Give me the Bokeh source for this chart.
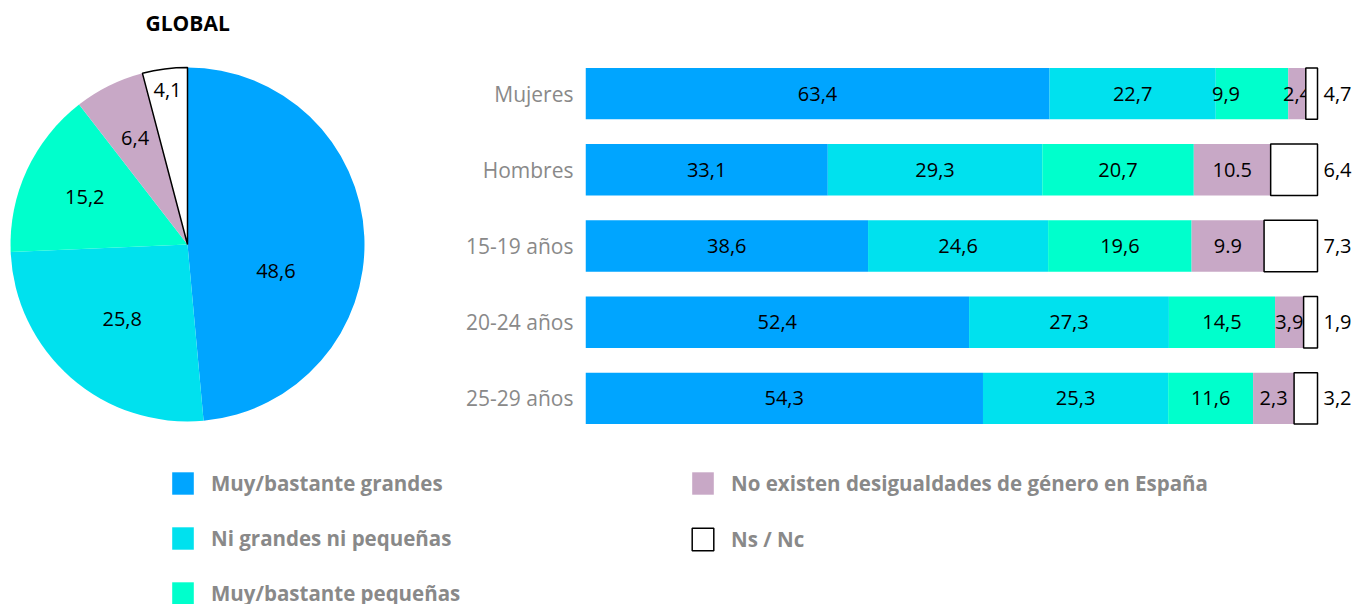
import math
from bokeh.plotting import figure
from bokeh.layouts import column, row
from bokeh.models import ColumnDataSource, Range1d, FixedTicker, Legend, LegendItem
from bokeh.core.properties import value
from bokeh.embed import file_html
from bokeh.resources import INLINE

# ---------------- data ----------------
series = ["Muy/bastante grandes", "Ni grandes ni pequeñas", "Muy/bastante pequeñas",
          "No existen desigualdades de género en España", "Ns / Nc"]
global_values = [48.6, 25.8, 15.2, 6.4, 4.1]

groups = ["Mujeres", "Hombres", "15-19 años", "20-24 años", "25-29 años"]
muy_grandes = [63.4, 33.1, 38.6, 52.4, 54.3]
ni_grandes_ni_pequenas = [22.7, 29.3, 24.6, 27.3, 25.3]
muy_pequenas = [9.9, 20.7, 19.6, 14.5, 11.6]
no_existen = [2.4, 10.5, 9.9, 3.9, 2.3]
ns_nc = [4.7, 6.4, 7.3, 1.9, 3.2]
no_existen_labels = ["2,4", "10.5", "9.9", "3,9", "2,3"]

# ---------------- styles ----------------
colors = ["#00A5FF", "#00E1EE", "#00FFCC", "#C8A8C6", "#FFFFFF"]
FONT = "Open Sans"
GRAY = "#898989"
TOP, BOTTOM = 41, 12


def fmt(v):
    return f"{v:.1f}".replace(".", ",")


# ---------------- pie ----------------
pie = figure(width=398, height=448, x_range=Range1d(-187, 211), y_range=Range1d(-192, 203),
             output_backend="svg", toolbar_location=None, min_border_left=0,
             min_border_right=0, min_border_top=TOP, min_border_bottom=BOTTOM,
             title="GLOBAL")
pie.axis.visible = False
pie.grid.visible = False
pie.outline_line_color = None
pie.title.align = "left"
pie.title.offset = 145
pie.title.standoff = 10
pie.title.text_font = FONT
pie.title.text_font_size = "21px"
pie.title.text_font_style = "bold"
pie.title.text_color = "black"

total = sum(global_values)
starts, ends, mids = [], [], []
cum = 0.0
for v in global_values:
    a0 = cum / total * 2 * math.pi
    cum += v
    a1 = cum / total * 2 * math.pi
    starts.append(math.pi / 2 - a0)
    ends.append(math.pi / 2 - a1)
    mids.append((a0 + a1) / 2)

R = 177
label_frac = [0.5, 0.56, 0.64, 0.67, 0.88]
label_dy = [-31, 0, 0, 0, 0]
pie_src = ColumnDataSource(dict(
    start=starts, end=ends, color=colors,
    lalpha=[0, 0, 0, 0, 1],
    lx=[R * f * math.sin(m) for f, m in zip(label_frac, mids)],
    ly=[R * f * math.cos(m) + d for f, m, d in zip(label_frac, mids, label_dy)],
    txt=[fmt(v) for v in global_values],
))
pie.wedge(x=0, y=0, radius=R, start_angle="start", end_angle="end", direction="clock",
          fill_color="color", line_color="black", line_alpha="lalpha", line_width=1.5,
          source=pie_src)
pie.text(x="lx", y="ly", text="txt", source=pie_src, text_align="center",
         text_baseline="middle", text_font=value(FONT), text_font_size="20px",
         text_color="black")

# ---------------- bars ----------------
ys = list(range(len(groups)))  # row index, Mujeres on top
bars = figure(width=957, height=448, y_range=Range1d(4.5, -0.684),
              x_range=Range1d(0, 105.19), output_backend="svg", toolbar_location=None,
              min_border_left=187, min_border_right=0, min_border_top=TOP,
              min_border_bottom=BOTTOM)
bars.xaxis.visible = False
bars.grid.visible = False
bars.outline_line_color = None
bars.yaxis.ticker = FixedTicker(ticks=ys)
bars.yaxis.major_label_overrides = {i: g for i, g in zip(ys, groups)}
bars.yaxis.axis_line_color = None
bars.yaxis.major_tick_line_color = None
bars.yaxis.minor_tick_line_color = None
bars.yaxis.major_tick_out = 0
bars.yaxis.major_label_standoff = 12
bars.yaxis.major_label_text_color = GRAY
bars.yaxis.major_label_text_font = FONT
bars.yaxis.major_label_text_font_size = "21px"

e1 = [a for a in muy_grandes]
e2 = [a + b for a, b in zip(e1, ni_grandes_ni_pequenas)]
e3 = [a + b for a, b in zip(e2, muy_pequenas)]
e4 = [max(a + b, 100 - c) for a, b, c in zip(e3, no_existen, ns_nc)]
e5 = [100 for _ in groups]
lefts = [[0] * len(groups), e1, e2, e3, e4]
rights = [e1, e2, e3, e4, e5]
texts = [[fmt(v) for v in muy_grandes], [fmt(v) for v in ni_grandes_ni_pequenas],
         [fmt(v) for v in muy_pequenas], no_existen_labels, [fmt(v) for v in ns_nc]]
label_xoff = [[0] * 5, [0] * 5, [-26, 0, 0, 0, 0], [0] * 5, [6] * 5]
H = 0.675
for i in range(5):
    src = ColumnDataSource(dict(y=ys, left=lefts[i], right=rights[i],
                                mid=[(l + r) / 2 for l, r in zip(lefts[i], rights[i])],
                                txt=texts[i], xo=label_xoff[i]))
    if i < 4:
        bars.hbar(y="y", left="left", right="right", height=H, fill_color=colors[i],
                  line_color=None, source=src)
        bars.text(x="mid", y="y", text="txt", x_offset="xo", source=src, text_align="center",
                  text_baseline="middle", text_font=value(FONT), text_font_size="20px",
                  text_color="black")
    else:
        bars.hbar(y="y", left="left", right="right", height=H, fill_color="white",
                  line_color="black", line_width=1.5, source=src)
        bars.text(x="right", y="y", text="txt", x_offset="xo", source=src, text_align="left",
                  text_baseline="middle", text_font=value(FONT), text_font_size="20px",
                  text_color="black")

# ---------------- legend ----------------
leg = figure(width=1355, height=156, x_range=Range1d(0, 1), y_range=Range1d(0, 1),
             output_backend="svg", toolbar_location=None, min_border=0)
leg.axis.visible = False
leg.grid.visible = False
leg.outline_line_color = None
items = []
for i, name in enumerate(series):
    # proxy renderer placed outside the visible range: only its legend swatch shows
    r = leg.rect(x=[-5], y=[-5], width=0.1, height=0.1, fill_color=colors[i],
                 line_color="black" if i == 4 else None, line_width=1.5)
    items.append(LegendItem(label=name, renderers=[r]))


def make_legend(its, loc, spacing):
    return Legend(items=its, location=loc, orientation="vertical", padding=0, margin=0,
                  spacing=spacing, glyph_width=27, glyph_height=28, label_height=28,
                  label_standoff=15, label_text_font=FONT, label_text_font_size="20.5px",
                  label_text_font_style="bold", label_text_color=GRAY,
                  border_line_color=None, background_fill_alpha=0)


leg.add_layout(make_legend(items[:3], (169, -3), 27))
leg.add_layout(make_legend(items[3:], (689, 51), 28))

layout = column(row(pie, bars), leg)
open("out.html", "w").write(file_html(layout, INLINE))
